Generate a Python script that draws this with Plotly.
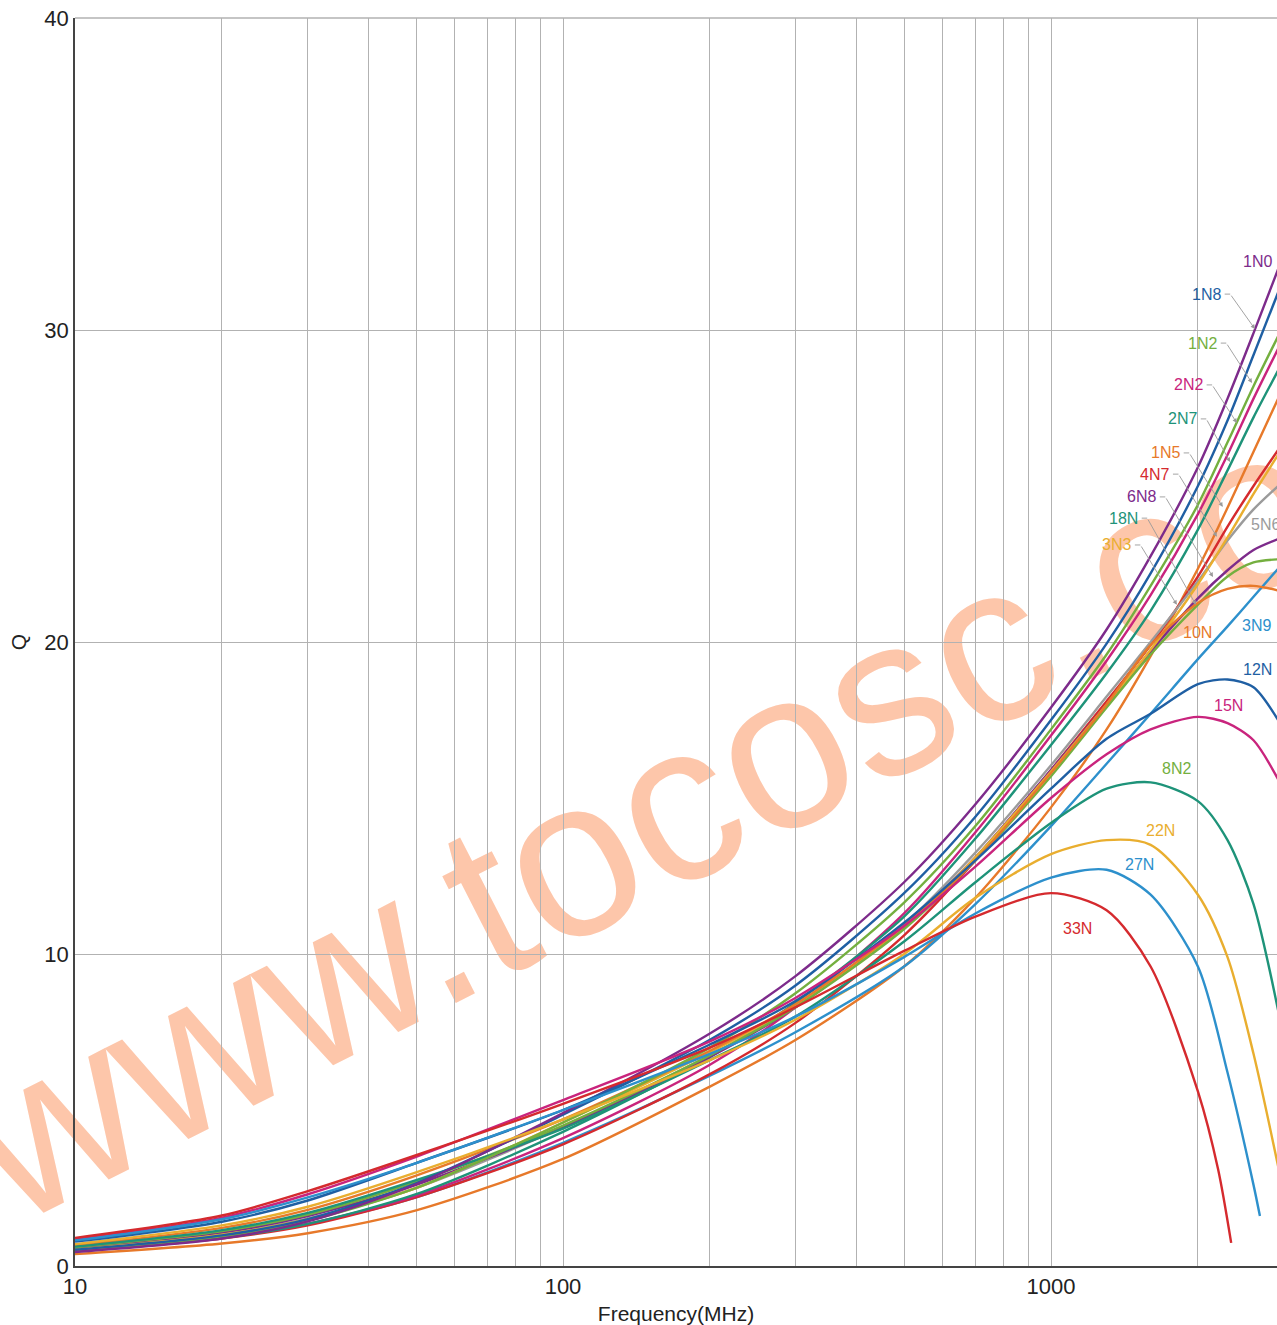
import plotly.graph_objects as go

# ---------------- data ----------------
FREQ = [10, 20, 30, 50, 100, 200, 300, 500, 700, 1000, 1300, 1600, 2000, 2300, 2600, 2920]
FREQ_27N = [10, 20, 30, 50, 100, 200, 300, 500, 700, 1000, 1300, 1600, 2000, 2300, 2600, 2680]
FREQ_33N = [10, 20, 30, 50, 100, 200, 300, 500, 700, 1000, 1300, 1600, 2000, 2200, 2340]

Q_1N0 = [0.45, 0.88, 1.43, 2.62, 4.9, 7.45, 9.3, 12.3, 14.8, 17.9, 20.4, 22.75, 25.6, 27.8, 29.9, 31.95]
Q_1N8 = [0.52, 0.98, 1.5, 2.65, 4.85, 7.25, 9.0, 11.95, 14.4, 17.5, 19.95, 22.2, 25.0, 27.1, 29.2, 31.2]
Q_1N2 = [0.5, 0.95, 1.45, 2.5, 4.6, 7.0, 8.75, 11.65, 14.1, 17.2, 19.6, 21.8, 24.4, 26.4, 28.2, 29.8]
Q_2N2 = [0.5, 0.92, 1.35, 2.25, 4.1, 6.45, 8.3, 11.3, 13.9, 17.0, 19.4, 21.5, 24.1, 26.0, 27.8, 29.4]
Q_2N7 = [0.48, 0.9, 1.35, 2.3, 4.3, 6.7, 8.45, 11.2, 13.7, 16.7, 19.0, 21.0, 23.6, 25.5, 27.2, 28.7]
Q_1N5 = [0.38, 0.72, 1.05, 1.78, 3.43, 5.75, 7.25, 9.6, 11.8, 14.7, 17.2, 19.55, 22.35, 24.3, 26.1, 27.8]
Q_4N7 = [0.47, 0.88, 1.3, 2.2, 3.9, 6.15, 7.8, 10.6, 13.0, 15.9, 18.1, 19.9, 22.1, 23.7, 25.0, 26.15]
Q_3N3 = [0.52, 1.0, 1.5, 2.5, 4.6, 6.85, 8.35, 10.85, 13.1, 15.85, 18.0, 19.75, 21.85, 23.35, 24.75, 26.0]
Q_5N6 = [0.55, 1.03, 1.52, 2.5, 4.45, 6.75, 8.3, 10.95, 13.25, 16.05, 18.25, 20.0, 21.95, 23.25, 24.25, 25.0]
Q_6N8 = [0.57, 1.07, 1.6, 2.6, 4.45, 6.7, 8.3, 10.9, 13.1, 15.9, 18.0, 19.7, 21.4, 22.3, 22.95, 23.3]
Q_18N = [0.6, 1.12, 1.65, 2.7, 4.5, 6.75, 8.3, 10.8, 13.0, 15.7, 17.9, 19.6, 21.2, 22.1, 22.55, 22.65]
Q_10N = [0.66, 1.22, 1.8, 2.9, 4.7, 6.9, 8.4, 10.9, 13.0, 15.8, 18.0, 19.9, 21.25, 21.7, 21.8, 21.65]
Q_3N9 = [0.5, 0.92, 1.35, 2.2, 3.95, 6.1, 7.5, 9.6, 11.6, 14.1, 16.1, 17.7, 19.45, 20.5, 21.45, 22.35]
Q_12N = [0.78, 1.42, 2.1, 3.3, 5.0, 7.1, 8.5, 11.0, 13.0, 15.3, 16.9, 17.7, 18.65, 18.8, 18.55, 17.5]
Q_15N = [0.85, 1.55, 2.3, 3.5, 5.32, 7.2, 8.6, 10.9, 12.8, 15.0, 16.4, 17.2, 17.6, 17.4, 16.85, 15.6]
Q_8N2 = [0.62, 1.15, 1.7, 2.75, 4.4, 6.6, 8.0, 10.4, 12.3, 14.2, 15.3, 15.5, 14.9, 13.65, 11.6, 8.2]
Q_22N = [0.7, 1.3, 1.9, 3.0, 4.7, 6.6, 7.9, 10.0, 11.8, 13.2, 13.65, 13.5, 11.9, 9.9, 6.8, 3.2]
Q_27N = [0.82, 1.5, 2.2, 3.3, 5.0, 6.8, 8.0, 9.9, 11.3, 12.45, 12.7, 11.9, 9.6, 6.2, 2.6, 1.6]
Q_33N = [0.9, 1.62, 2.4, 3.55, 5.2, 7.0, 8.3, 10.1, 11.2, 11.95, 11.4, 9.6, 5.6, 3.1, 0.74]

X_TICK_VALS = [10, 20, 30, 40, 50, 60, 70, 80, 90, 100, 200, 300, 400, 500, 600, 700, 800, 900, 1000, 2000]
X_TICK_TEXT = ["10", "", "", "", "", "", "", "", "", "100", "", "", "", "", "", "", "", "", "1000", ""]
Y_TICK_VALS = [0, 10, 20, 30, 40]

# ---------------- styles ----------------
PURPLE = "#7D2B8B"
BLUE = "#1F5FA3"
GREEN = "#74AF3F"
MAGENTA = "#C9247D"
TEAL = "#1E9379"
ORANGE = "#E7792A"
RED = "#D52A2E"
GOLD = "#E9AE2F"
GRAY = "#9B9B9B"
LBLUE = "#2D90CC"
GRID = "#B2B2B2"
LEADER = "#9A9A9A"
FONT = "Liberation Sans, Arial, Helvetica, sans-serif"

series = [
    ("1N5", FREQ, Q_1N5, ORANGE),
    ("3N9", FREQ, Q_3N9, LBLUE),
    ("4N7", FREQ, Q_4N7, RED),
    ("2N2", FREQ, Q_2N2, MAGENTA),
    ("2N7", FREQ, Q_2N7, TEAL),
    ("5N6", FREQ, Q_5N6, GRAY),
    ("6N8", FREQ, Q_6N8, PURPLE),
    ("3N3", FREQ, Q_3N3, GOLD),
    ("18N", FREQ, Q_18N, GREEN),
    ("10N", FREQ, Q_10N, ORANGE),
    ("8N2", FREQ, Q_8N2, TEAL),
    ("1N2", FREQ, Q_1N2, GREEN),
    ("1N8", FREQ, Q_1N8, BLUE),
    ("1N0", FREQ, Q_1N0, PURPLE),
    ("22N", FREQ, Q_22N, GOLD),
    ("12N", FREQ, Q_12N, BLUE),
    ("15N", FREQ, Q_15N, MAGENTA),
    ("27N", FREQ_27N, Q_27N, LBLUE),
    ("33N", FREQ_33N, Q_33N, RED),
]

fig = go.Figure()
for name, fx, qy, col in series:
    fig.add_trace(go.Scatter(
        x=fx, y=qy, mode="lines", name=name,
        line=dict(color=col, width=2.4, shape="spline", smoothing=0.8),
        showlegend=False, hoverinfo="skip",
    ))

# ---------------- labels ----------------
# (text, color, label log10(f), label Q, arrow target log10(f) or None, target Q)
labels = [
    ("1N0", PURPLE, 3.424, 32.18, None, None),
    ("1N8", BLUE, 3.318, 31.15, 3.418, 30.03),
    ("1N2", GREEN, 3.310, 29.58, 3.412, 28.30),
    ("2N2", MAGENTA, 3.281, 28.24, 3.381, 27.02),
    ("2N7", TEAL, 3.269, 27.15, 3.367, 25.77),
    ("1N5", ORANGE, 3.234, 26.06, 3.352, 24.33),
    ("4N7", RED, 3.212, 25.38, 3.340, 23.37),
    ("6N8", PURPLE, 3.185, 24.65, 3.332, 22.08),
    ("18N", TEAL, 3.148, 23.97, 3.297, 21.19),
    ("3N3", GOLD, 3.134, 23.11, 3.258, 21.19),
    ("5N6", GRAY, 3.440, 23.78, None, None),
    ("10N", ORANGE, 3.301, 20.32, None, None),
    ("3N9", LBLUE, 3.422, 20.54, None, None),
    ("12N", BLUE, 3.424, 19.13, None, None),
    ("15N", MAGENTA, 3.363, 17.98, None, None),
    ("8N2", GREEN, 3.258, 15.96, None, None),
    ("22N", GOLD, 3.225, 13.97, None, None),
    ("27N", LBLUE, 3.182, 12.88, None, None),
    ("33N", RED, 3.055, 10.83, None, None),
]
PX_PER_DEC = 488.0
PX_PER_Q = 31.2
STUB_START = 17
STUB_END = 24
for text, col, lx, ly, tx, ty in labels:
    fig.add_annotation(x=lx, y=ly, xref="x", yref="y", text=text, showarrow=False,
                       font=dict(family=FONT, size=16, color=col))
    if tx is not None:
        # short horizontal stub right of the text
        fig.add_annotation(x=lx, y=ly, xref="x", yref="y", text="", xshift=STUB_END,
                           ax=-(STUB_END - STUB_START), ay=0,
                           showarrow=True, arrowhead=0, arrowwidth=0.9, arrowcolor=LEADER,
                           standoff=0, startstandoff=0)
        # diagonal leader with arrowhead to the curve
        fig.add_annotation(x=tx, y=ty, xref="x", yref="y", text="",
                           ax=(lx - tx) * PX_PER_DEC + STUB_END, ay=-(ly - ty) * PX_PER_Q,
                           showarrow=True, arrowhead=2, arrowsize=1.0, arrowwidth=0.9,
                           arrowcolor=LEADER, standoff=0, startstandoff=0)

# top border line at Q = 40 (gray like the grid)
fig.add_shape(type="line", xref="paper", yref="paper", x0=0, x1=1, y0=1, y1=1,
              line=dict(color=GRID, width=1.5), layer="between")

# ---------------- watermark ----------------
fig.add_shape(type="rect", xref="paper", yref="paper", x0=0.403, x1=0.663, y0=0.356, y1=0.456,
              line=dict(width=0), fillcolor="rgba(0,0,0,0)", layer="between",
              label=dict(text="www.tocosc.com", textangle=-27, textposition="middle center",
                         font=dict(family=FONT, size=225, color="#FDC6AA")))

fig.update_layout(
    width=1277, height=1325,
    margin=dict(l=75, r=0, t=18, b=59),
    paper_bgcolor="white", plot_bgcolor="white",
    font=dict(family=FONT, color="#222222", size=22),
    xaxis=dict(
        type="log", range=[1, 1 + 1202 / PX_PER_DEC],
        tickvals=X_TICK_VALS, ticktext=X_TICK_TEXT, ticks="",
        showgrid=True, gridcolor=GRID, gridwidth=1,
        showline=True, linecolor="#444444", linewidth=1.5,
        zeroline=False, tickfont=dict(size=22), ticklabeloverflow="allow",
        automargin=False,
        title=dict(text="Frequency(MHz)", font=dict(size=21), standoff=8),
    ),
    yaxis=dict(
        range=[0, 40], tickvals=Y_TICK_VALS, ticks="",
        showgrid=True, gridcolor=GRID, gridwidth=1,
        showline=True, linecolor="#444444", linewidth=1.5,
        zeroline=False, tickfont=dict(size=22), ticklabeloverflow="allow",
        automargin=False,
        title=dict(text="Q", font=dict(size=21), standoff=12),
    ),
)

fig.write_html(
    "out.html",
    config={"displayModeBar": False},
    post_script="document.body.style.margin='0';document.body.style.overflow='hidden';",
)
